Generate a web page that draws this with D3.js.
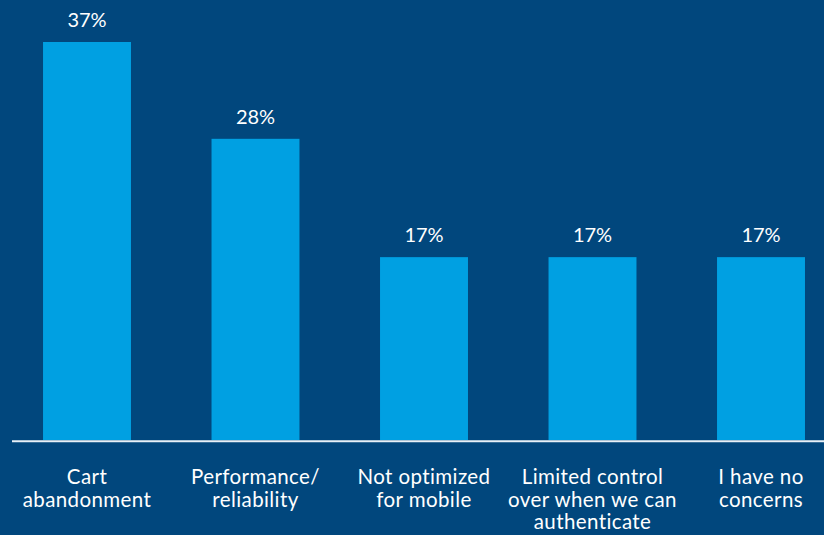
<!DOCTYPE html>
<html>
<head>
<meta charset="utf-8">
<script src="https://cdn.jsdelivr.net/npm/d3@7"></script>
<style>
  html, body { margin: 0; padding: 0; background: #01477d; }
  svg { display: block; }
  text { font-family: Lato, "Open Sans", sans-serif; fill: #ffffff; }
</style>
</head>
<body>
<svg id="chart" width="824" height="535"></svg>
<script>
// Concerns about authentication, share of respondents (%)
const categories = [
  ["Cart", "abandonment"],
  ["Performance/", "reliability"],
  ["Not optimized", "for mobile"],
  ["Limited control", "over when we can", "authenticate"],
  ["I have no", "concerns"]
];
const values = [37, 28, 17, 17, 17];
const valueLabels = ["37%", "28%", "17%", "17%", "17%"];

const W = 824, H = 535;
const baseY = 440;
const svg = d3.select("#chart");

svg.append("rect").attr("width", W).attr("height", H).attr("fill", "#01477d");

const idx = d3.range(values.length);
const x = d3.scaleBand()
  .domain(idx)
  .range([2.75, 845.25])
  .paddingInner(0.478)
  .paddingOuter(0.239);

const y = d3.scaleLinear()
  .domain([0, 37])
  .range([baseY, 42]);

svg.append("g").selectAll("rect")
  .data(idx)
  .join("rect")
  .attr("x", i => x(i))
  .attr("y", i => y(values[i]))
  .attr("width", x.bandwidth())
  .attr("height", i => baseY - y(values[i]))
  .attr("fill", "#00a0e2");

// value labels above bars
svg.append("g").selectAll("text")
  .data(idx)
  .join("text")
  .attr("x", i => x(i) + x.bandwidth() / 2)
  .attr("y", i => y(values[i]) - 15)
  .attr("text-anchor", "middle")
  .attr("font-size", 20)
  .text(i => valueLabels[i]);

// baseline
svg.append("line")
  .attr("x1", 12).attr("x2", W)
  .attr("y1", baseY + 1.2).attr("y2", baseY + 1.2)
  .attr("stroke", "#e8f0f7")
  .attr("stroke-width", 2);

// category labels, one text per line
const lines = idx.flatMap(i => categories[i].map((t, k) => ({ i, k, t })));
svg.append("g").selectAll("text")
  .data(lines)
  .join("text")
  .attr("x", d => x(d.i) + x.bandwidth() / 2)
  .attr("y", d => 484 + d.k * 22.7)
  .attr("text-anchor", "middle")
  .attr("font-size", 20.5)
  .attr("letter-spacing", 0.4)
  .text(d => d.t);
</script>
</body>
</html>
